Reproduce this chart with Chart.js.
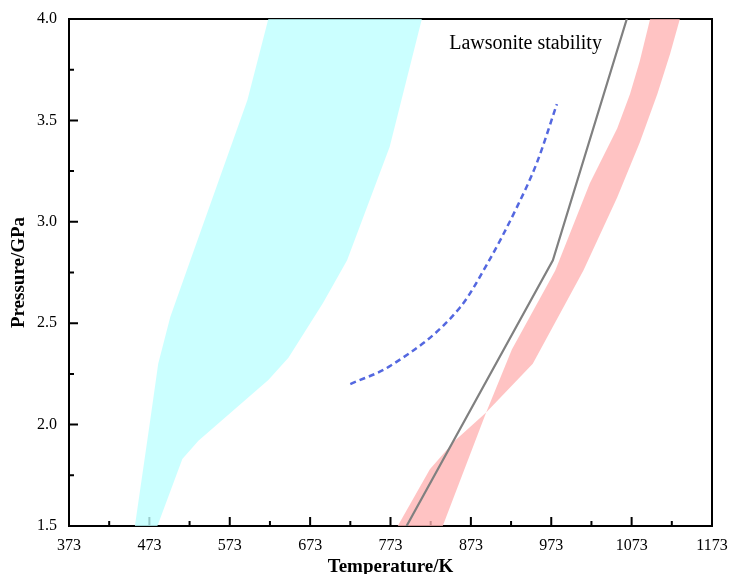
<!DOCTYPE html>
<html>
<head>
<meta charset="utf-8">
<script src="https://cdn.jsdelivr.net/npm/chart.js@4.4.1/dist/chart.umd.min.js"></script>
<style>
  html, body { margin: 0; padding: 0; background: #fff; }
  #chart { display: block; }
</style>
</head>
<body>
<canvas id="chart" width="729" height="574"></canvas>
<script>
// Axis ranges and tick labels
const T_MIN = 373, T_MAX = 1173;
const P_MIN = 1.5, P_MAX = 4.0;
const tempTicks = [373, 473, 573, 673, 773, 873, 973, 1073, 1173];
const pressureTicks = [1.5, 2.0, 2.5, 3.0, 3.5, 4.0];

// Cyan field outline: left edge bottom->top, then right edge top->bottom
const cyanT = [455, 474, 484, 499, 524, 595, 621, 812, 772, 719, 689, 646, 621, 534, 514, 483];
const cyanP = [1.5, 2.02, 2.30, 2.53, 2.81, 3.60, 4.0, 4.0, 3.37, 2.81, 2.60, 2.33, 2.22, 1.92, 1.83, 1.5];

// Pink band outline (two edges crossing near 892 K)
const pinkT = [782, 822, 853, 892, 950, 1013, 1055, 1083, 1105, 1121, 1133, 1096, 1083, 1071, 1055, 1021, 978, 924, 892, 838];
const pinkP = [1.5, 1.78, 1.92, 2.06, 2.30, 2.76, 3.12, 3.39, 3.63, 3.83, 4.0, 4.0, 3.79, 3.63, 3.46, 3.19, 2.76, 2.37, 2.06, 1.5];

// Lawsonite stability limit (grey line)
const grayT = [793, 975, 1067];
const grayP = [1.5, 2.81, 4.0];

// Dashed blue path
const blueT = [723, 773, 860, 893, 930, 955, 980];
const blueP = [2.2, 2.29, 2.58, 2.79, 3.07, 3.29, 3.58];

const labelText = 'Lawsonite stability';
const labelT = 846, labelP = 3.85;

const SERIF = "'Liberation Serif', 'Times New Roman', serif";

const toPoints = (xs, ys) => xs.map((v, i) => ({ x: v, y: ys[i] }));

// Frame and inward ticks, drawn under the datasets
const frameAndTicks = {
  id: 'frameAndTicks',
  beforeDatasetsDraw(chart) {
    const { ctx, chartArea: a, scales: { x, y } } = chart;
    ctx.save();
    ctx.strokeStyle = '#000';
    ctx.lineWidth = 2;
    ctx.beginPath();
    for (let t = T_MIN; t <= T_MAX; t += 50) {
      const px = x.getPixelForValue(t);
      const len = (t - T_MIN) % 100 === 0 ? 9 : 5;
      ctx.moveTo(px, a.bottom);
      ctx.lineTo(px, a.bottom - len);
    }
    for (let k = 0; k <= 10; k++) {
      const py = y.getPixelForValue(P_MIN + k * 0.25);
      const len = k % 2 === 0 ? 9 : 5;
      ctx.moveTo(a.left, py);
      ctx.lineTo(a.left + len, py);
    }
    ctx.stroke();
    ctx.strokeRect(a.left, a.top, a.right - a.left, a.bottom - a.top);
    ctx.restore();
  }
};

const fieldLabel = {
  id: 'fieldLabel',
  afterDatasetsDraw(chart) {
    const { ctx, scales: { x, y } } = chart;
    ctx.save();
    ctx.font = '20px ' + SERIF;
    ctx.fillStyle = '#000';
    ctx.textAlign = 'left';
    ctx.textBaseline = 'alphabetic';
    ctx.fillText(labelText, x.getPixelForValue(labelT), y.getPixelForValue(labelP));
    ctx.restore();
  }
};

new Chart(document.getElementById('chart'), {
  type: 'line',
  data: {
    datasets: [
      {
        data: toPoints(blueT, blueP),
        borderColor: '#5468e0',
        borderWidth: 2.5,
        borderDash: [6, 4],
        cubicInterpolationMode: 'monotone',
        pointRadius: 0,
        fill: false,
      },
      {
        data: toPoints(grayT, grayP),
        borderColor: '#808080',
        borderWidth: 2.2,
        tension: 0,
        pointRadius: 0,
        fill: false,
      },
      {
        data: toPoints(pinkT, pinkP),
        borderColor: 'transparent',
        borderWidth: 0,
        backgroundColor: 'rgba(255, 180, 180, 0.8)',
        tension: 0,
        pointRadius: 0,
        fill: 'shape',
      },
      {
        data: toPoints(cyanT, cyanP),
        borderColor: 'transparent',
        borderWidth: 0,
        backgroundColor: 'rgba(190, 255, 255, 0.8)',
        tension: 0,
        pointRadius: 0,
        fill: 'shape',
      },
    ],
  },
  options: {
    responsive: false,
    animation: false,
    devicePixelRatio: 1,
    layout: { padding: { top: 19, right: 17, left: 0, bottom: 0 } },
    plugins: {
      legend: { display: false },
      tooltip: { enabled: false },
    },
    scales: {
      x: {
        type: 'linear',
        min: T_MIN,
        max: T_MAX,
        afterBuildTicks: (scale) => { scale.ticks = tempTicks.map(v => ({ value: v })); },
        afterFit: (scale) => {
          scale.height = 48;
          scale.paddingLeft = 0;
          scale.paddingRight = 0;
        },
        grid: { display: false, drawTicks: false },
        border: { display: false },
        ticks: {
          color: '#000',
          padding: 10,
          maxRotation: 0,
          autoSkip: false,
          font: { family: SERIF, size: 16 },
          callback: (v) => String(v),
        },
        title: {
          display: true,
          text: 'Temperature/K',
          color: '#000',
          padding: 0,
          font: { family: SERIF, size: 19, weight: 'bold', lineHeight: 0.7 },
        },
      },
      y: {
        type: 'linear',
        min: P_MIN,
        max: P_MAX,
        afterBuildTicks: (scale) => { scale.ticks = pressureTicks.map(v => ({ value: v })); },
        afterFit: (scale) => {
          scale.width = 69;
          scale.paddingTop = 0;
          scale.paddingBottom = 0;
        },
        grid: { display: false, drawTicks: false },
        border: { display: false },
        ticks: {
          color: '#000',
          padding: 12,
          autoSkip: false,
          font: { family: SERIF, size: 16 },
          callback: (v) => Number(v).toFixed(1),
        },
        title: {
          display: true,
          text: 'Pressure/GPa',
          color: '#000',
          padding: { top: 8, bottom: 0 },
          font: { family: SERIF, size: 19, weight: 'bold' },
        },
      },
    },
  },
  plugins: [frameAndTicks, fieldLabel],
});
</script>
</body>
</html>
